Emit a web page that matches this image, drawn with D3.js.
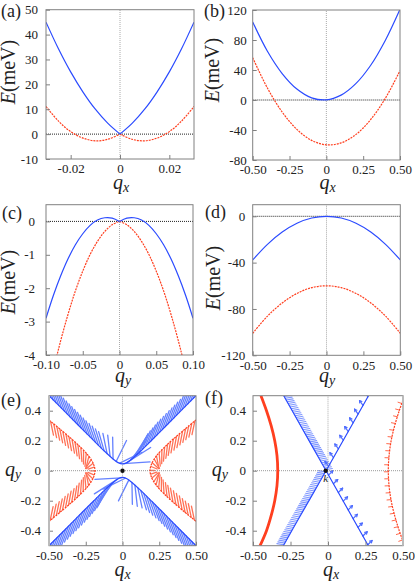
<!DOCTYPE html>
<html>
<head>
<meta charset="utf-8">
<script src="https://cdn.jsdelivr.net/npm/d3@7"></script>
<style>
body { margin: 0; background: #fff; }
</style>
</head>
<body>
<svg id="fig" width="415" height="583"></svg>
<script>
// ---- data ----
// (a) E(meV) along qx
var aQ = [-0.03, -0.025, -0.02, -0.015, -0.01, -0.005, 0, 0.005, 0.01, 0.015, 0.02, 0.025, 0.03];
var aBlue = [45, 34.4, 25, 16.9, 10, 4.4, 0, 4.4, 10, 16.9, 25, 34.4, 45];
var aRed = [11.1, 5.3, 1.0, -1.6, -2.7, -2.1, 0, -2.1, -2.7, -1.6, 1.0, 5.3, 11.1];
var aXTicks = [-0.02, 0, 0.02], aXLabels = ['-0.02', '0', '0.02'];
var aYTicks = [50, 40, 30, 20, 10, 0, -10];

// (b) E(meV) along qx
var bQ = [-0.5, -0.4, -0.3, -0.2, -0.1, 0, 0.1, 0.2, 0.3, 0.4, 0.5];
var bBlue = [104, 65, 35.3, 14.6, 2.9, 0.2, 6.5, 21.8, 46, 79.4, 121];
var bRed = [56.3, 15.9, -16, -39.2, -53.8, -59.8, -57.2, -46.1, -26.3, 2.1, 39.1];
var bYTicks = [120, 80, 40, 0, -40, -80];

// (c) E(meV) along qy
var cQ = [-0.1, -0.09, -0.08, -0.07, -0.06, -0.05, -0.04, -0.03, -0.02, -0.01, 0,
          0.01, 0.02, 0.03, 0.04, 0.05, 0.06, 0.07, 0.08, 0.09, 0.1];
var cBlue = [-2.9, -2.22, -1.63, -1.12, -0.70, -0.37, -0.12, 0.04, 0.11, 0.1, 0,
             0.1, 0.11, 0.04, -0.12, -0.37, -0.70, -1.12, -1.63, -2.22, -2.9];
var cRed = [-5.45, -4.46, -3.57, -2.78, -2.08, -1.49, -0.99, -0.6, -0.3, -0.1, 0,
            -0.1, -0.3, -0.6, -0.99, -1.49, -2.08, -2.78, -3.57, -4.46, -5.45];
var cXTicks = [-0.1, -0.05, 0, 0.05, 0.1], cXLabels = ['-0.10', '-0.05', '0', '0.05', '0.10'];
var cYTicks = [0, -1, -2, -3, -4];

// (d) E(meV) along qy
var dQ = [-0.5, -0.4, -0.3, -0.2, -0.1, 0, 0.1, 0.2, 0.3, 0.4, 0.5];
var dBlue = [-37.7, -24.2, -13.6, -6, -1.5, 0, -1.5, -6, -13.6, -24.2, -37.7];
var dRed = [-101, -86.2, -74.8, -66.6, -61.6, -60, -61.6, -66.6, -74.8, -86.2, -101];
var dYTicks = [0, -40, -80, -120];

var halfTicks = [-0.5, -0.25, 0, 0.25, 0.5], halfLabels = ['-0.50', '-0.25', '0', '0.25', '0.50'];
var qyTicks = [0.4, 0.2, 0, -0.2, -0.4], qyLabels = ['0.4', '0.2', '0', '-0.2', '-0.4'];

// (e) Fermi contours [qx, qy]; spin direction (deg, in q plane) and relative arrow length per point
var eBlueUp = [[-0.5, 0.5], [-0.4, 0.402], [-0.3, 0.303], [-0.2, 0.205], [-0.12, 0.128], [-0.06, 0.075], [-0.03, 0.054],
               [0, 0.045], [0.03, 0.054], [0.06, 0.075], [0.12, 0.128], [0.2, 0.205], [0.3, 0.303], [0.4, 0.402], [0.5, 0.5]];
var eBlueUpSpin = [110, 110, 110, 110, 106, 90, 45, -5, 30, 55, 66, 70, 70, 70, 70];
var eBlueUpLen = [1, 1, 1, 1, 1, 1.1, 1.2, 1.3, 1.4, 1.2, 1, 1, 1, 1, 1];
var eBlueLow = [[0.5, -0.5], [0.4, -0.402], [0.3, -0.303], [0.2, -0.205], [0.12, -0.128], [0.06, -0.075], [0.03, -0.054],
                [0, -0.045], [-0.03, -0.054], [-0.06, -0.075], [-0.12, -0.128], [-0.2, -0.205], [-0.3, -0.303], [-0.4, -0.402], [-0.5, -0.5]];
var eBlueLowSpin = [-70, -70, -70, -70, -74, -90, -135, -185, -150, -125, -114, -110, -110, -110, -110];
var eBlueLowLen = [1, 1, 1, 1, 1, 1.1, 1.2, 1.3, 1.4, 1.2, 1, 1, 1, 1, 1];
var eRedL = [[-0.5, 0.337], [-0.453, 0.3], [-0.333, 0.2], [-0.279, 0.15], [-0.232, 0.1], [-0.2, 0.05], [-0.187, 0],
             [-0.2, -0.05], [-0.232, -0.1], [-0.279, -0.15], [-0.333, -0.2], [-0.453, -0.3], [-0.503, -0.34]];
var eRedLSpin = [-78, -78, -80, -86, -100, -140, -180, -220, -260, -274, -280, -282, -282];
var eRedR = [[0.503, 0.34], [0.453, 0.3], [0.333, 0.2], [0.279, 0.15], [0.232, 0.1], [0.2, 0.05], [0.187, 0],
             [0.2, -0.05], [0.232, -0.1], [0.279, -0.15], [0.333, -0.2], [0.453, -0.3], [0.5, -0.337]];
var eRedRSpin = [-102, -102, -100, -94, -80, -40, 0, 40, 80, 94, 100, 102, 102];
var eRedLen = [1, 1, 1, 1, 0.9, 0.6, 0.3, 0.6, 0.9, 1, 1, 1, 1];
var eDot = [0, 0];

// (f) Fermi contours
var fBlue1Up = [[-0.295, 0.5], [-0.2, 0.331], [-0.1, 0.154], [-0.013, 0]];
var fBlue1Low = [[-0.013, 0], [0.1, -0.2], [0.269, -0.5]];
var fBlue2Low = [[-0.298, -0.5], [-0.2, -0.327], [-0.1, -0.153], [-0.013, 0]];
var fBlue2Up = [[-0.013, 0], [0.1, 0.2], [0.27, 0.5]];
var fBlue1UpSpin = [10, 10, 10, 10], fBlue1LowSpin = [45, 45, 45];
var fBlue2LowSpin = [170, 170, 170, 170], fBlue2UpSpin = [125, 125, 125];
var fRedL = [[-0.447, 0.5], [-0.41, 0.4], [-0.379, 0.3], [-0.355, 0.2], [-0.34, 0.1], [-0.335, 0],
             [-0.34, -0.1], [-0.355, -0.2], [-0.379, -0.3], [-0.41, -0.4], [-0.453, -0.5]];
var fRedR = [[0.5, 0.47], [0.475, 0.4], [0.4445, 0.3], [0.421, 0.2], [0.407, 0.1], [0.402, 0],
             [0.407, -0.1], [0.421, -0.2], [0.4445, -0.3], [0.475, -0.4], [0.5, -0.47]];
var fRedRSpin = [160, 165, 170, 175, 178, 180, 182, 185, 190, 195, 200];
var fDot = [-0.015, 0];

// ---- drawing ----
var BLUE = '#2b4bff', RED = '#ff3f1f', FRAME = '#808080';
var SERIF = 'Liberation Serif';
var svg = d3.select('#fig');
var n = 0;

function txt(g) {
  return g.append('text').attr('font-family', SERIF).attr('fill', '#222');
}

function panel(o) {
  var x = d3.scaleLinear().domain(o.xd).range(o.xr);
  var y = d3.scaleLinear().domain(o.yd).range(o.yr);
  var g = svg.append('g');
  var id = 'clip' + (n++);
  svg.append('clipPath').attr('id', id).append('rect')
    .attr('x', o.xr[0]).attr('y', o.yr[1])
    .attr('width', o.xr[1] - o.xr[0]).attr('height', o.yr[0] - o.yr[1]);
  var plot = g.append('g').attr('clip-path', 'url(#' + id + ')');

  // zero lines
  plot.append('line').attr('x1', x(0)).attr('x2', x(0)).attr('y1', o.yr[0]).attr('y2', o.yr[1])
    .attr('stroke', '#aaa').attr('stroke-width', 1).attr('stroke-dasharray', '1,1');
  plot.append('line').attr('x1', o.xr[0]).attr('x2', o.xr[1]).attr('y1', y(0)).attr('y2', y(0))
    .attr('stroke', o.hzero || '#222').attr('stroke-width', 1).attr('stroke-dasharray', '1,1');

  // axes
  var ya = g.append('g').attr('transform', 'translate(' + o.xr[0] + ',0)')
    .call(d3.axisLeft(y).tickValues(o.yt).tickSize(-4).tickPadding(o.ypad)
      .tickFormat(function (d, i) { return o.yl ? o.yl[i] : String(d); }));
  var xa = g.append('g').attr('transform', 'translate(0,' + o.yr[0] + ')')
    .call(d3.axisBottom(x).tickValues(o.xt).tickSize(-4).tickPadding(5)
      .tickFormat(function (d, i) { return o.xl[i]; }));
  [ya, xa].forEach(function (a) {
    a.attr('font-family', SERIF).attr('font-size', 13);
    a.select('.domain').remove();
    a.selectAll('line').attr('stroke', FRAME);
    a.selectAll('text').attr('fill', '#222').attr('font-family', SERIF);
  });

  g.append('rect').attr('x', o.xr[0]).attr('y', o.yr[1])
    .attr('width', o.xr[1] - o.xr[0]).attr('height', o.yr[0] - o.yr[1])
    .attr('fill', 'none').attr('stroke', FRAME).attr('stroke-width', 1);

  // labels
  txt(g).attr('x', o.lab[0]).attr('y', o.lab[1]).attr('font-size', 18).text(o.name);
  if (o.etitle) {
    var t = txt(g).attr('transform', 'translate(' + o.etitle[0] + ',' + o.etitle[1] + ') rotate(-90)')
      .attr('text-anchor', 'middle').attr('font-size', 20);
    t.append('tspan').attr('font-style', 'italic').text('E');
    t.append('tspan').text('(meV)');
  }
  qlabel(g, o.xtitle[0], o.xtitle[1], o.xsub, 'middle');
  if (o.qytitle) qlabel(g, o.qytitle[0], o.qytitle[1], 'y', 'start');
  return { x: x, y: y, g: g, plot: plot };
}

function qlabel(g, px, py, sub, anchor) {
  var t = txt(g).attr('x', px).attr('y', py).attr('text-anchor', anchor)
    .attr('font-size', 20).attr('font-style', 'italic');
  t.append('tspan').text('q');
  t.append('tspan').attr('font-size', 14).attr('dy', 3).text(sub);
}

var smooth = d3.curveCatmullRom.alpha(0.5);

function bands(p, q, vals, color, dashed, split) {
  var pts = q.map(function (v, i) { return [v, vals[i]]; });
  var pieces = split ? [pts.filter(function (d) { return d[0] <= 0; }), pts.filter(function (d) { return d[0] >= 0; })] : [pts];
  var line = d3.line().x(function (d) { return p.x(d[0]); }).y(function (d) { return p.y(d[1]); }).curve(smooth);
  pieces.forEach(function (pc) {
    p.plot.append('path').attr('d', line(pc)).attr('fill', 'none').attr('stroke', color)
      .attr('stroke-width', 1.2).attr('stroke-dasharray', dashed ? '2,1' : null);
  });
}

function contour(p, pts, st) {
  var line = d3.line().x(function (d) { return p.x(d[0]); }).y(function (d) { return p.y(d[1]); }).curve(smooth);
  p.plot.append('path').attr('d', line(pts)).attr('fill', 'none').attr('stroke', st.color)
    .attr('stroke-width', st.width || 1.2).attr('stroke-dasharray', st.dash || null);
}

// spin arrows placed along a contour at regular arc length
function spins(p, pts, ang, len, st) {
  var P = pts.map(function (d) { return [p.x(d[0]), p.y(d[1])]; });
  var cum = [0];
  for (var i = 1; i < P.length; i++) cum.push(cum[i - 1] + Math.hypot(P[i][0] - P[i - 1][0], P[i][1] - P[i - 1][1]));
  var total = cum[cum.length - 1], k = 0;
  var hg = p.plot.insert('g', ':first-child').attr('stroke', st.color).attr('stroke-width', st.width)
    .attr('opacity', st.opacity).attr('stroke-linecap', 'round');
  for (var s = st.step / 2; s < total; s += st.step) {
    while (k < cum.length - 2 && cum[k + 1] < s) k++;
    var t = (s - cum[k]) / (cum[k + 1] - cum[k]);
    var px = P[k][0] + t * (P[k + 1][0] - P[k][0]), py = P[k][1] + t * (P[k + 1][1] - P[k][1]);
    var a = (ang[k] + t * (ang[k + 1] - ang[k])) * Math.PI / 180;
    var l = st.len * (len ? len[k] + t * (len[k + 1] - len[k]) : 1);
    var ex = px + Math.cos(a) * l, ey = py - Math.sin(a) * l;
    hg.append('line').attr('x1', px).attr('y1', py).attr('x2', ex).attr('y2', ey);
    if (st.head) {
      [a + 2.6, a - 2.6].forEach(function (b) {
        hg.append('line').attr('x1', ex).attr('y1', ey)
          .attr('x2', ex + Math.cos(b) * st.head).attr('y2', ey - Math.sin(b) * st.head);
      });
    }
  }
}

function dot(p, d) {
  p.plot.append('circle').attr('cx', p.x(d[0])).attr('cy', p.y(d[1])).attr('r', 2.2).attr('fill', '#111');
}

// (a)
var pa = panel({ name: '(a)', xd: [-0.03, 0.03], xr: [46, 194], yd: [-10, 50], yr: [159, 9.7],
  xt: aXTicks, xl: aXLabels, yt: aYTicks, ypad: 8, lab: [1, 17], etitle: [14.5, 72], xtitle: [121, 189], xsub: 'x' });
bands(pa, aQ, aRed, RED, true, true);
bands(pa, aQ, aBlue, BLUE, false, true);

// (b)
var pb = panel({ name: '(b)', xd: [-0.5, 0.5], xr: [252.7, 400], yd: [-80, 120], yr: [160, 10],
  xt: halfTicks, xl: halfLabels, yt: bYTicks, ypad: 6, lab: [204, 17], etitle: [218.5, 70], xtitle: [327.5, 189], xsub: 'x' });
bands(pb, bQ, bRed, RED, true, false);
bands(pb, bQ, bBlue, BLUE, false, false);

// (c)
var pc = panel({ name: '(c)', xd: [-0.1, 0.1], xr: [46, 193], yd: [-4, 0.5], yr: [355, 204.7],
  xt: cXTicks, xl: cXLabels, yt: cYTicks, ypad: 11, lab: [2, 219], etitle: [15, 282], xtitle: [123, 382], xsub: 'y' });
bands(pc, cQ, cRed, RED, true, true);
bands(pc, cQ, cBlue, BLUE, false, true);

// (d)
var pd = panel({ name: '(d)', xd: [-0.5, 0.5], xr: [252.7, 400.3], yd: [-120, 10], yr: [355.3, 204.7],
  xt: halfTicks, xl: halfLabels, yt: dYTicks, ypad: 7.5, lab: [205, 218], etitle: [220, 278], xtitle: [327, 382], xsub: 'y' });
bands(pd, dQ, dRed, RED, true, false);
bands(pd, dQ, dBlue, BLUE, false, false);

// (e)
var pe = panel({ name: '(e)', xd: [-0.5, 0.5], xr: [49, 196], yd: [-0.5, 0.5], yr: [545.7, 395.7],
  xt: halfTicks, xl: halfLabels, yt: qyTicks, yl: qyLabels, ypad: 8, hzero: '#999',
  lab: [1, 406], xtitle: [122.5, 576], xsub: 'x', qytitle: [5, 476] });
var eBlueSt = { color: '#4a6cff', width: 1.3, opacity: 0.85, len: 20, step: 4 };
var eRedSt = { color: '#ff5a3a', width: 1.3, opacity: 0.85, len: 14, step: 4 };
spins(pe, eBlueUp, eBlueUpSpin, eBlueUpLen, eBlueSt);
spins(pe, eBlueLow, eBlueLowSpin, eBlueLowLen, eBlueSt);
spins(pe, eRedL, eRedLSpin, eRedLen, eRedSt);
spins(pe, eRedR, eRedRSpin, eRedLen, eRedSt);
contour(pe, eBlueUp, { color: BLUE });
contour(pe, eBlueLow, { color: BLUE });
contour(pe, eRedL, { color: RED, dash: '2,1' });
contour(pe, eRedR, { color: RED, dash: '2,1' });
dot(pe, eDot);

// (f)
var pf = panel({ name: '(f)', xd: [-0.5, 0.5], xr: [253, 403], yd: [-0.5, 0.5], yr: [545.7, 395.7],
  xt: halfTicks, xl: halfLabels, yt: qyTicks, yl: qyLabels, ypad: 7, hzero: '#999',
  lab: [205, 404], xtitle: [331, 576], xsub: 'x', qytitle: [211.7, 476] });
var fDense = { color: '#4a6cff', width: 1.1, opacity: 0.7, len: 7, step: 2 };
var fSparse = { color: '#3a5cff', width: 1.2, opacity: 0.9, len: 6, step: 10, head: 2.5 };
spins(pf, fBlue1Up, fBlue1UpSpin, null, fDense);
spins(pf, fBlue2Low, fBlue2LowSpin, null, fDense);
spins(pf, fBlue1Low, fBlue1LowSpin, null, fSparse);
spins(pf, fBlue2Up, fBlue2UpSpin, null, fSparse);
spins(pf, fRedR, fRedRSpin, null, { color: '#ff5a3a', width: 1, opacity: 0.9, len: 4, step: 7 });
contour(pf, fBlue1Up.concat(fBlue1Low.slice(1)), { color: BLUE });
contour(pf, fBlue2Low.concat(fBlue2Up.slice(1)), { color: BLUE });
contour(pf, fRedL, { color: RED, width: 2.8 });
contour(pf, fRedR, { color: RED, dash: '2,1' });
dot(pf, fDot);
txt(pf.g).attr('x', pf.x(fDot[0])).attr('y', pf.y(fDot[1]) + 11).attr('text-anchor', 'middle')
  .attr('font-size', 11).attr('font-style', 'italic').text('k');

// light grey edges seen on (e) left and (f) right
pe.g.append('line').attr('x1', 49).attr('x2', 49).attr('y1', 395.7).attr('y2', 545.7).attr('stroke', '#bbb').attr('stroke-width', 2);
pf.g.append('line').attr('x1', 403).attr('x2', 403).attr('y1', 395.7).attr('y2', 545.7).attr('stroke', '#bbb').attr('stroke-width', 2);
</script>
</body>
</html>
